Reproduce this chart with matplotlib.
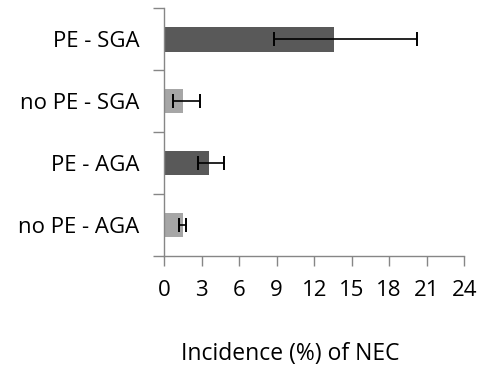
import matplotlib
matplotlib.use("Agg")
import matplotlib.pyplot as plt
import numpy as np

plt.rcParams['font.family'] = ['Open Sans', 'DejaVu Sans']

groups = ["no PE - AGA", "PE - AGA", "no PE - SGA", "PE - SGA"]
incidence = [1.47, 3.58, 1.47, 13.6]
ci_low = [1.2, 2.67, 0.72, 8.8]
ci_high = [1.71, 4.75, 2.86, 20.2]
colors = ["#a6a6a6", "#595959", "#a6a6a6", "#595959"]

inc = np.array(incidence)
err = [inc - np.array(ci_low), np.array(ci_high) - inc]

fig = plt.figure(figsize=(4.79, 3.70), dpi=100)
ax = fig.add_axes([0.343, 0.308, 0.626, 0.670])

y = np.arange(len(groups))
ax.barh(y, inc, height=0.4, color=colors, zorder=2)
ax.errorbar(inc, y, xerr=err, fmt='none', ecolor='black', elinewidth=1.2,
            capsize=5, capthick=1.4, zorder=3)

ax.set_xlim(0, 24)
ax.set_ylim(-0.5, 3.5)
ax.set_xticks(np.arange(0, 25, 3))
ax.set_yticks(y)
ax.set_yticklabels(groups)
ax.set_yticks(np.arange(-0.5, 4.0, 1.0), minor=True)
ax.tick_params(axis='y', which='major', length=0, pad=18, labelsize=16)
ax.tick_params(axis='y', which='minor', length=8, color='#868686', width=1)
ax.tick_params(axis='x', length=7, color='#868686', width=1, pad=10, labelsize=16)

for s in ['top', 'right']:
    ax.spines[s].set_visible(False)
for s in ['left', 'bottom']:
    ax.spines[s].set_color('#868686')
    ax.spines[s].set_linewidth(1)

ax.set_xlabel("Incidence (%) of NEC", fontsize=16.5)
ax.xaxis.set_label_coords(0.419, -0.345)

fig.savefig("out.png", dpi=100)
